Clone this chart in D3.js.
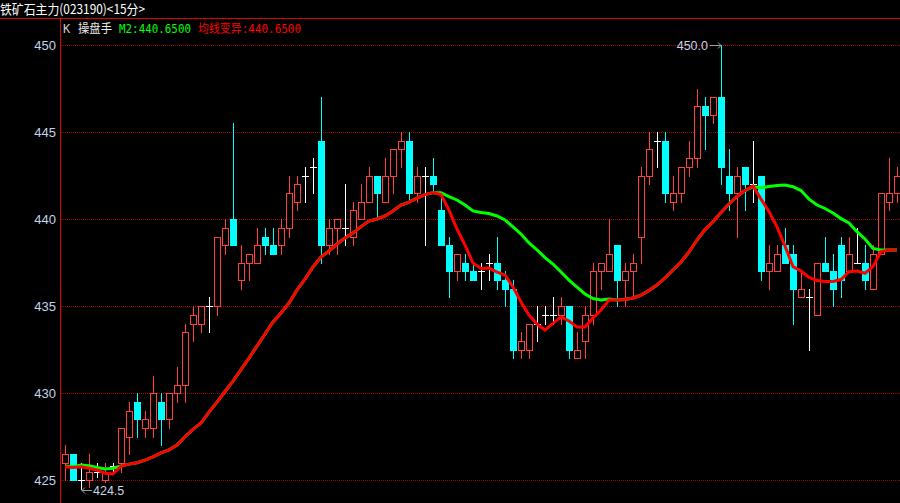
<!DOCTYPE html>
<html><head><meta charset="utf-8">
<script src="https://cdn.jsdelivr.net/npm/d3@7"></script>
<style>html,body{margin:0;padding:0;background:#000;overflow:hidden}</style>
</head><body>
<svg id="c" width="900" height="503"></svg>
<script>
// ---- data ----
const openP = [426.0,426.5,425.0,425.0,425.5,425.0,425.8,426.0,427.5,429.5,
428.0,428.0,429.5,428.5,430.0,430.5,434.0,434.0,435.0,435.0,
438.5,440.0,436.5,437.5,437.5,439.0,438.5,438.5,439.5,441.0,
442.5,443.0,444.5,438.5,439.5,439.5,439.0,440.0,441.0,442.5,
441.0,442.5,444.0,444.5,441.5,442.5,442.5,440.5,438.5,437.0,
437.5,437.0,437.0,437.5,437.5,436.5,436.0,432.5,432.5,434.0,
434.5,434.5,434.5,435.0,432.0,433.0,434.5,437.0,437.0,438.5,
436.5,437.0,439.0,442.5,444.5,444.5,441.0,441.5,443.0,443.5,
446.5,446.0,447.0,442.5,441.5,443.0,442.0,442.5,437.0,437.0,
438.5,438.0,435.5,435.5,434.5,437.5,437.0,438.5,437.0,437.5,
437.5,436.0,438.0,441.0,441.5];
const highP = [427.0,426.5,426.0,426.5,426.0,426.0,426.0,428.0,429.5,430.0,
429.0,431.0,430.0,430.0,431.5,434.0,435.0,435.0,435.5,439.0,
440.0,445.5,438.5,438.0,439.5,439.5,439.5,440.0,442.5,442.5,
443.0,443.5,447.0,440.0,440.0,442.0,441.0,442.0,443.0,442.5,
443.5,444.0,445.0,445.0,443.0,443.0,443.5,441.5,439.0,438.0,
438.0,437.5,437.5,438.0,439.0,437.0,436.5,433.5,434.0,435.0,
435.0,435.5,435.5,435.0,433.5,435.0,437.5,437.5,440.0,438.5,
437.5,438.0,443.0,445.0,445.0,445.0,442.5,443.0,444.5,447.5,
447.0,447.0,450.0,444.0,443.0,443.0,444.5,442.5,438.5,438.5,
439.5,438.5,437.0,436.0,437.5,439.0,438.0,439.0,439.0,439.5,
438.5,438.5,441.5,443.5,443.0];
const lowP = [425.0,425.0,424.5,424.6,425.2,424.9,425.5,425.5,426.5,427.5,
427.5,427.5,427.0,428.0,429.5,429.5,433.0,433.5,433.5,434.5,
438.0,438.5,436.0,436.5,437.5,438.0,438.0,438.0,439.0,440.5,
441.0,441.5,437.5,438.0,438.0,438.5,438.5,440.0,441.0,440.0,
441.0,441.5,443.0,441.0,441.0,438.5,441.5,438.5,435.5,436.5,
436.5,436.5,436.0,436.5,436.0,435.0,432.0,432.0,432.0,433.0,
434.0,434.0,434.0,432.0,432.0,432.0,434.0,436.0,437.0,435.0,
435.0,435.5,437.5,442.0,443.0,441.0,440.5,441.0,442.5,443.0,
444.0,445.5,442.0,440.5,439.0,440.5,441.0,436.5,436.0,437.0,
437.5,434.0,435.5,432.5,434.5,437.0,435.0,435.5,437.0,437.5,
436.0,436.0,438.0,440.5,441.0];
const closeP = [426.5,425.0,425.0,425.5,425.5,425.5,425.8,428.0,429.0,428.5,
428.5,430.0,428.5,430.0,430.5,433.5,434.5,435.0,435.0,439.0,
439.5,438.5,437.5,438.0,438.5,438.5,438.0,439.5,441.5,442.0,
442.5,443.0,438.5,439.5,440.0,439.5,440.5,441.0,442.5,441.5,
442.5,444.0,444.5,441.5,442.5,442.5,442.0,438.5,437.0,438.0,
437.0,436.5,437.0,437.5,436.5,436.0,432.5,433.0,434.0,434.0,
434.5,434.5,435.0,432.5,432.5,434.5,437.0,437.5,438.0,436.5,
437.0,437.5,442.5,444.0,444.5,441.5,441.5,443.0,443.5,446.5,
446.0,447.0,443.0,441.5,442.5,442.0,442.0,437.0,437.5,438.0,
437.5,436.0,436.0,435.5,437.5,437.0,436.0,436.5,438.0,437.5,
436.5,438.0,441.5,441.5,442.5];
// 均线变异 (red)
const maVariant = [425.78,425.74,425.78,425.69,425.59,425.40,425.36,425.82,425.93,426.01,
426.16,426.35,426.58,426.74,427.02,427.50,427.93,428.29,428.92,429.49,
430.10,430.70,431.36,432.02,432.71,433.40,434.09,434.61,435.18,435.93,
436.56,437.25,437.82,438.17,438.57,438.91,439.20,439.57,439.89,440.01,
440.18,440.47,440.81,440.98,441.21,441.41,441.52,441.41,440.52,439.43,
438.51,437.48,437.16,437.19,436.96,436.79,436.10,435.24,434.49,433.97,
433.63,434.01,434.38,434.15,433.80,433.80,434.32,434.78,435.35,435.35,
435.38,435.47,435.64,435.90,436.21,436.62,437.08,437.54,438.11,438.80,
439.40,439.85,440.38,440.87,441.30,441.64,441.90,441.15,440.43,439.55,
438.45,437.27,437.02,436.65,436.47,436.42,436.42,436.53,436.98,437.02,
436.89,437.27,438.14,438.23,438.23];
// M2 (green)
const maM2 = [425.82,425.78,425.88,425.84,425.74,425.65,425.69,425.82,425.93,426.01,
426.16,426.35,426.58,426.74,427.02,427.50,427.93,428.29,428.92,429.49,
430.10,430.70,431.36,432.02,432.71,433.40,434.09,434.61,435.18,435.93,
436.56,437.25,437.82,438.17,438.57,438.91,439.20,439.57,439.89,440.01,
440.18,440.47,440.81,440.98,441.21,441.41,441.52,441.52,441.29,441.10,
440.81,440.47,440.38,440.32,440.18,439.95,439.55,439.14,438.63,438.23,
437.79,437.42,436.96,436.50,436.10,435.70,435.44,435.35,435.41,435.35,
435.38,435.47,435.64,435.90,436.21,436.62,437.08,437.54,438.11,438.80,
439.40,439.85,440.38,440.87,441.30,441.64,441.86,441.80,441.87,441.93,
441.96,441.86,441.64,441.15,440.81,440.61,440.35,440.03,439.78,439.28,
438.86,438.32,438.23,438.23,438.23];
const yTicks = [425,430,435,440,445,450];
const titleText = "铁矿石主力(023190)<15分>";
const legendItems = ["K","操盘手","M2:440.6500","均线变异:440.6500"];
const maxLabel = "450.0", minLabel = "424.5";
const maxIndex = 82, minIndex = 2;

// ---- drawing ----
const svg = d3.select("#c");
svg.append("rect").attr("width",900).attr("height",503).attr("fill","#000");
const n = openP.length;
const x = d3.scaleLinear().domain([0, n-1]).range([65, 65 + 8*(n-1)]);
const y = d3.scaleLinear().domain([425, 450]).range([480.3, 45]);
const py = v => Math.round(y(v));

// grid
const g = svg.append("g");
g.selectAll("line.grid").data(yTicks).enter().append("line")
  .attr("x1",61).attr("x2",900)
  .attr("y1",d=>py(d)+0.5).attr("y2",d=>py(d)+0.5)
  .attr("stroke","#b00000").attr("stroke-width",1).attr("stroke-dasharray","1,1")
  .attr("shape-rendering","crispEdges");

// axis frame
svg.append("line").attr("x1",0).attr("x2",900).attr("y1",18.5).attr("y2",18.5)
  .attr("stroke","#e00000").attr("shape-rendering","crispEdges");
svg.append("line").attr("x1",60.5).attr("x2",60.5).attr("y1",18).attr("y2",503)
  .attr("stroke","#e00000").attr("shape-rendering","crispEdges");

// y labels
const yAxis = d3.axisLeft(y).tickValues(yTicks).tickSize(0).tickPadding(0).tickFormat(d3.format("d"));
const ya = svg.append("g").attr("transform","translate(56,0)").call(yAxis);
ya.select(".domain").remove();
ya.selectAll("text").attr("fill","#c4d4ea").attr("font-family","Liberation Sans, Arial, sans-serif")
  .attr("font-size","13px").attr("dy","0.36em");

// candles
const candles = svg.append("g").attr("shape-rendering","crispEdges");
const data = d3.range(n).map(i=>({i,o:openP[i],h:highP[i],l:lowP[i],c:closeP[i]}));
const colUp = "#ff4040", colDn = "#00ffff", colFlat = "#ffffff";
data.forEach(d=>{
  const cx = Math.round(x(d.i));
  const col = d.c > d.o ? colUp : (d.c < d.o ? colDn : colFlat);
  candles.append("line").attr("x1",cx+0.5).attr("x2",cx+0.5)
    .attr("y1",py(d.h)).attr("y2",py(d.l)+1).attr("stroke",col);
  const top = py(Math.max(d.o,d.c)), bot = py(Math.min(d.o,d.c));
  if (d.c > d.o) {
    candles.append("rect").attr("x",cx-2.5).attr("y",top+0.5).attr("width",6).attr("height",Math.max(1,bot-top))
      .attr("fill","#000").attr("stroke",col).attr("stroke-width",1);
  } else if (d.c < d.o) {
    candles.append("rect").attr("x",cx-3).attr("y",top).attr("width",7).attr("height",Math.max(1,bot-top+1))
      .attr("fill",col);
  } else {
    candles.append("line").attr("x1",cx-3).attr("x2",cx+4).attr("y1",top+0.5).attr("y2",top+0.5).attr("stroke",col);
  }
});

// MA lines
const line = vals => d3.line().x((d,i)=>x(i)).y(d=>y(d))(vals);
svg.append("path").attr("d",line(maM2)).attr("fill","none").attr("stroke","#00ff00").attr("stroke-width",3);
svg.append("path").attr("d",line(maVariant)).attr("fill","none").attr("stroke","#ff0000").attr("stroke-width",3);

// max / min annotations
const annCol = "#c8d4e4";
const mx = Math.round(x(maxIndex)), myy = py(highP[maxIndex]);
svg.append("text").attr("x",mx-13).attr("y",myy).attr("dy","0.36em").attr("text-anchor","end")
  .attr("fill",annCol).attr("font-family","Liberation Sans, Arial, sans-serif").attr("font-size","12.5px").text(maxLabel);
svg.append("path").attr("d",`M${mx-11},${myy+0.5}H${mx}M${mx-3},${myy-2.5}L${mx},${myy+0.5}L${mx-3},${myy+3.5}`)
  .attr("stroke","#a0a0a0").attr("fill","none");
const nx = Math.round(x(minIndex)), ny = py(lowP[minIndex]) + 1;
svg.append("text").attr("x",nx+12).attr("y",ny).attr("dy","0.36em").attr("text-anchor","start")
  .attr("fill",annCol).attr("font-family","Liberation Sans, Arial, sans-serif").attr("font-size","12.5px").text(minLabel);
svg.append("path").attr("d",`M${nx+11},${ny+0.5}H${nx+1}M${nx+4},${ny-2.5}L${nx+1},${ny+0.5}L${nx+4},${ny+3.5}`)
  .attr("stroke","#a0a0a0").attr("fill","none");

// title
svg.append("text").attr("x",0).attr("y",14).attr("fill","#ffffff")
  .attr("font-family","Noto Sans CJK SC, sans-serif").attr("font-size","13px")
  .attr("textLength",145).attr("lengthAdjust","spacingAndGlyphs").text(titleText);

// legend
const legFont = "DejaVu Sans Mono, Noto Sans CJK SC, monospace";
const legX = [63, 78, 119, 198], legCol = ["#c8c8c8","#e8e8e8","#00ff00","#ff0000"], legW=[null,34,72,103];
legendItems.forEach((t,k)=>{
  const tx = svg.append("text").attr("x",legX[k]).attr("y",33).attr("fill",legCol[k])
    .attr("font-family",legFont).attr("font-size","12px").text(t);
  if (legW[k]) tx.attr("textLength",legW[k]).attr("lengthAdjust","spacingAndGlyphs");
});
</script>
</body></html>
